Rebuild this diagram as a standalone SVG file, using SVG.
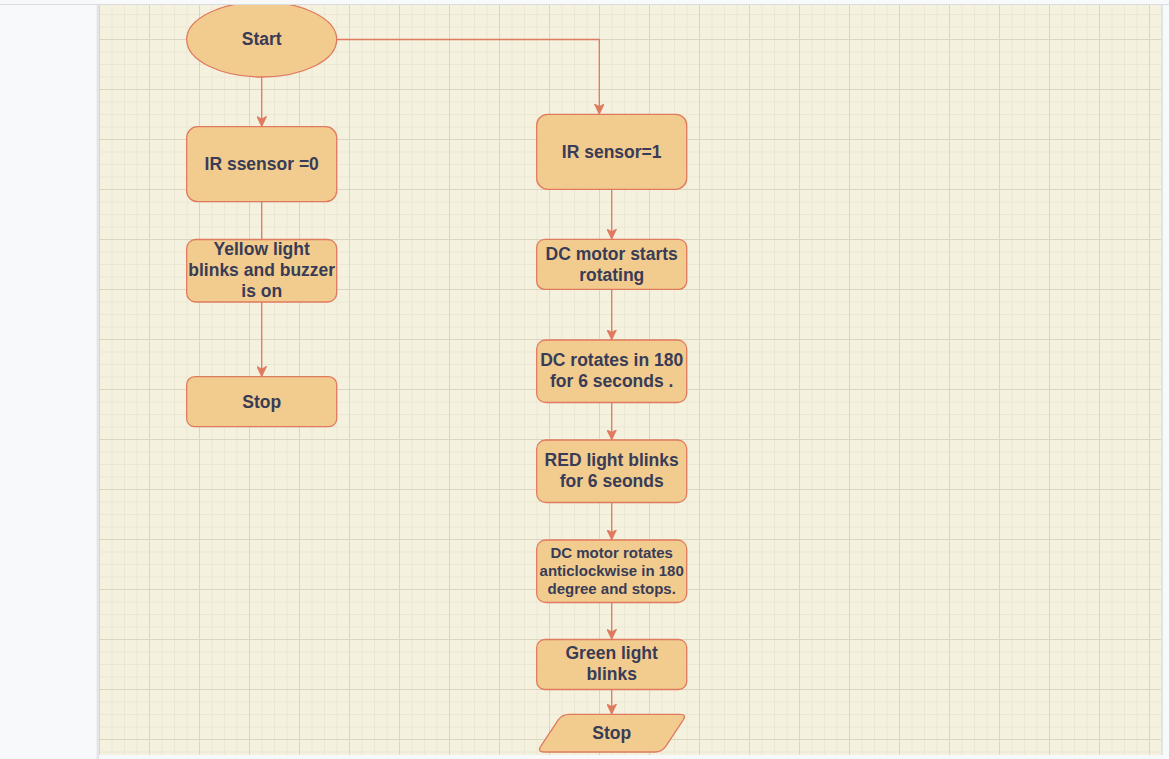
<svg xmlns="http://www.w3.org/2000/svg" width="1169" height="759" viewBox="0 0 1169 759">
  <style>
    .node { fill: #F2CC8F; stroke: #E07A5F; stroke-width: 1.3; }
    .lbl { font-family: "Liberation Sans", Arial, sans-serif; font-weight: bold; font-size: 17.5px; fill: #393C56; text-anchor: middle; }
    .sm { font-size: 15px; }
    .conn { fill: none; stroke: #E07A5F; stroke-width: 1.3; }
  </style>
  <defs>
    <pattern id="grid" x="99" y="39" width="50" height="50" patternUnits="userSpaceOnUse">
      <path d="M13 0V50M25.5 0V50M38 0V50M0 13H50M0 25.5H50M0 38H50" stroke="#ebe7d3" stroke-width="1" fill="none"/>
      <path d="M0.5 0V50M0 0.5H50" stroke="#dcd6c0" stroke-width="1" fill="none"/>
    </pattern>
    <marker id="arrow" viewBox="0 0 11 10" refX="10.5" refY="5" markerWidth="11" markerHeight="10" markerUnits="userSpaceOnUse" orient="auto">
      <path d="M0,0 L10.5,5 L0,10 L2.8,5 Z" fill="#E07A5F" stroke="#E07A5F" stroke-width="0.8"/>
    </marker>
    <clipPath id="canvasClip">
      <rect x="99" y="5" width="1062" height="750"/>
    </clipPath>
  </defs>

  <!-- page chrome -->
  <rect x="0" y="0" width="1169" height="759" fill="#f8f9fa"/>
  <rect x="99" y="5" width="1062" height="750" fill="#F4F1DE"/>
  <rect x="99" y="5" width="1062" height="750" fill="url(#grid)"/>
  <line x1="0" y1="4.5" x2="1169" y2="4.5" stroke="#dadce0" stroke-width="1"/>
  <line x1="97.8" y1="5" x2="97.8" y2="759" stroke="#e3e5e8" stroke-width="2.5"/>
  <line x1="1162" y1="5" x2="1162" y2="755" stroke="#dadce0" stroke-width="1.5"/>

  <g clip-path="url(#canvasClip)">
    <g id="connectors">
      <path class="conn" d="M261.7 77 V126.7" marker-end="url(#arrow)"/>
      <path class="conn" d="M336.7 39.5 H599.3 V114.3" marker-end="url(#arrow)"/>
      <path class="conn" d="M261.7 201.7 V239.5"/>
      <path class="conn" d="M261.7 302 V376.7" marker-end="url(#arrow)"/>
      <path class="conn" d="M611.7 189.3 V239.3" marker-end="url(#arrow)"/>
      <path class="conn" d="M611.7 289.3 V340" marker-end="url(#arrow)"/>
      <path class="conn" d="M611.7 402.5 V440" marker-end="url(#arrow)"/>
      <path class="conn" d="M611.7 502.5 V540" marker-end="url(#arrow)"/>
      <path class="conn" d="M611.7 602.5 V639.5" marker-end="url(#arrow)"/>
      <path class="conn" d="M611.7 689.5 V714.3" marker-end="url(#arrow)"/>
    </g>

    <g id="start">
      <ellipse class="node" cx="261.7" cy="39.5" rx="75" ry="37.5"/>
      <text class="lbl" x="261.7" y="45">Start</text>
    </g>
    <g id="ir0">
      <rect class="node" x="186.7" y="126.7" width="150" height="75" rx="11"/>
      <text class="lbl" x="261.7" y="169.8">IR ssensor =0</text>
    </g>
    <g id="yellow">
      <rect class="node" x="186.7" y="239.5" width="150" height="62.5" rx="9"/>
      <text class="lbl" x="261.7" y="255.3">Yellow light</text>
      <text class="lbl" x="261.7" y="276.3">blinks and buzzer</text>
      <text class="lbl" x="261.7" y="297.3">is on</text>
    </g>
    <g id="stop-left">
      <rect class="node" x="186.7" y="376.7" width="150" height="50" rx="8"/>
      <text class="lbl" x="261.7" y="407.5">Stop</text>
    </g>
    <g id="ir1">
      <rect class="node" x="536.7" y="114.3" width="150" height="75" rx="11"/>
      <text class="lbl" x="611.7" y="157.6">IR sensor=1</text>
    </g>
    <g id="dc-start">
      <rect class="node" x="536.7" y="239.3" width="150" height="50" rx="8"/>
      <text class="lbl" x="611.7" y="259.6">DC motor starts</text>
      <text class="lbl" x="611.7" y="280.6">rotating</text>
    </g>
    <g id="dc-180">
      <rect class="node" x="536.7" y="340" width="150" height="62.5" rx="9"/>
      <text class="lbl" x="611.7" y="366">DC rotates in 180</text>
      <text class="lbl" x="611.7" y="387">for 6 seconds .</text>
    </g>
    <g id="red">
      <rect class="node" x="536.7" y="440" width="150" height="62.5" rx="9"/>
      <text class="lbl" x="611.7" y="466">RED light blinks</text>
      <text class="lbl" x="611.7" y="487">for 6 seonds</text>
    </g>
    <g id="dc-anticlockwise">
      <rect class="node" x="536.7" y="540" width="150" height="62.5" rx="9"/>
      <text class="lbl sm" x="611.7" y="558">DC motor rotates</text>
      <text class="lbl sm" x="611.7" y="576">anticlockwise in 180</text>
      <text class="lbl sm" x="611.7" y="594">degree and stops.</text>
    </g>
    <g id="green">
      <rect class="node" x="536.7" y="639.5" width="150" height="50" rx="8"/>
      <text class="lbl" x="611.7" y="659.3">Green light</text>
      <text class="lbl" x="611.7" y="680.3">blinks</text>
    </g>
    <g id="stop-right">
      <path class="node" d="M569 714.3 H680 Q687 714.3 683.1 720.1 L665.9 746.2 Q662 752 655 752 H544 Q537 752 540.9 746.2 L558.1 720.1 Q562 714.3 569 714.3 Z"/>
      <text class="lbl" x="611.7" y="738.8">Stop</text>
    </g>
  </g>
</svg>
